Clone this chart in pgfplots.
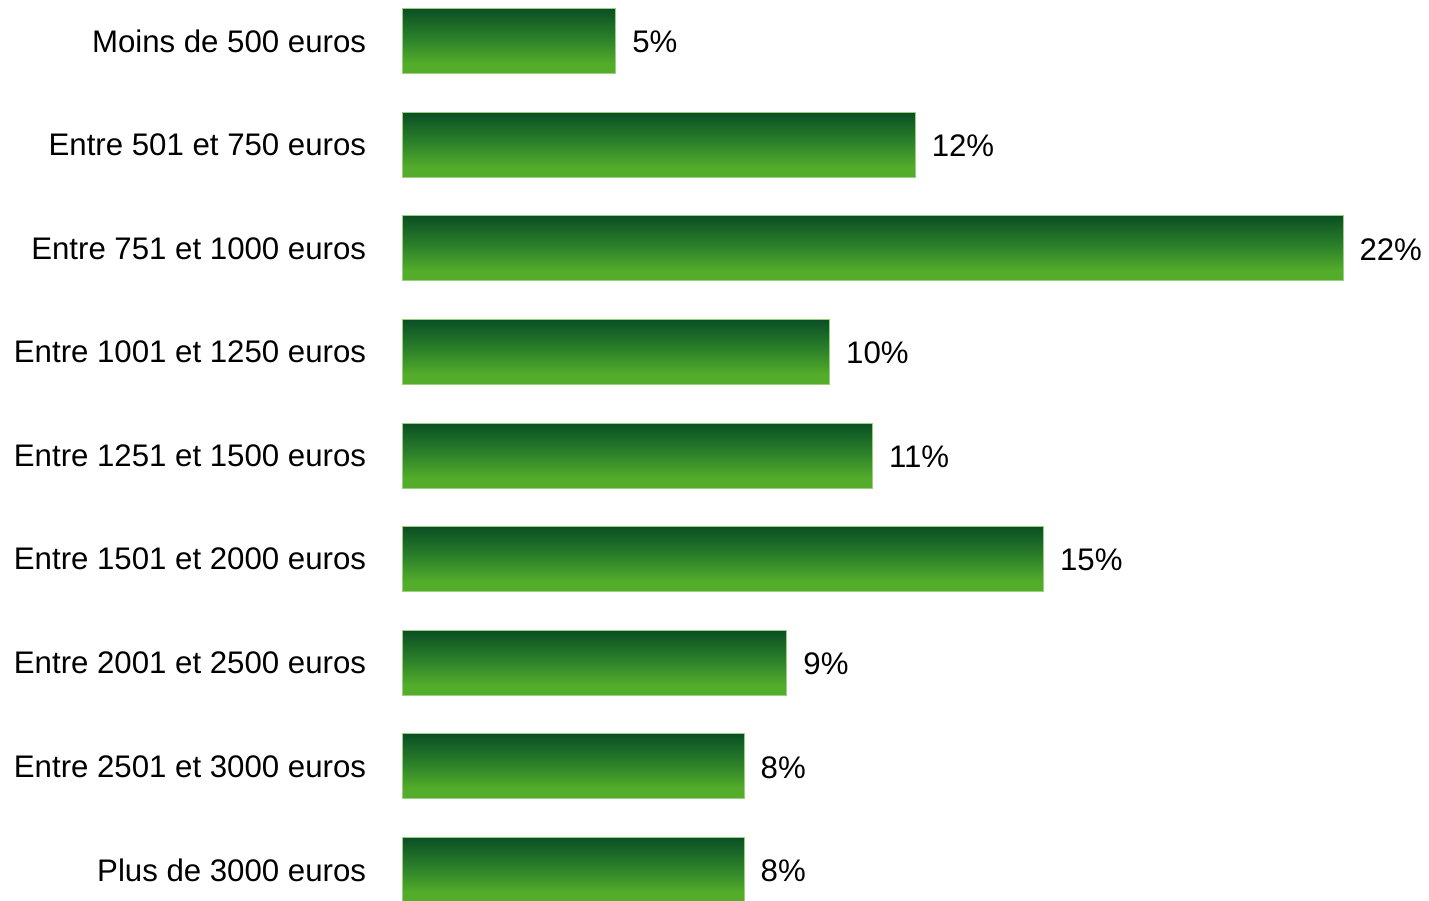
\documentclass[border=0pt]{standalone}
\usepackage{fontspec}
\setmainfont{Liberation Sans}
\usepackage{pgfplots}
\pgfplotsset{compat=1.18}
\definecolor{darkg}{HTML}{0A4F24}
\definecolor{midg}{HTML}{2C812A}
\definecolor{lightg}{HTML}{53AC2A}
\definecolor{edgeg}{HTML}{9ACF80}
\pgfdeclareverticalshading{bargreen}{100bp}{color(0bp)=(lightg); color(25bp)=(lightg); color(33bp)=(lightg); color(52bp)=(midg); color(75bp)=(darkg); color(100bp)=(darkg)}
\pgfplotsset{gbar/.style={draw=edgeg, line width=0.5pt, shading=bargreen}}
\begin{document}
\begin{tikzpicture}
\path[use as bounding box] (0pt,-450pt) rectangle (714.5pt,0pt);
\begin{axis}[
  at={(201pt,0pt)}, anchor=north west,
  scale only axis, width=513.5pt, height=450pt,
  xmin=0, xmax=24.01, ymin=-0.396, ymax=8.29, y dir=reverse,
  xtick=\empty,
  ytick={0,1,2,3,4,5,6,7,8},
  yticklabels={Moins de 500 euros, Entre 501 et 750 euros, Entre 751 et 1000 euros, Entre 1001 et 1250 euros, Entre 1251 et 1500 euros, Entre 1501 et 2000 euros, Entre 2001 et 2500 euros, Entre 2501 et 3000 euros, Plus de 3000 euros},
  yticklabel style={font=\fontsize{15.6}{18}\selectfont, anchor=east, inner sep=0pt, xshift=-13.5pt},
  axis line style={draw=none},
  tick style={draw=none},
  xbar, bar width=32.5pt, bar shift=0pt,
  point meta=explicit symbolic,
  nodes near coords,
  nodes near coords style={font=\fontsize{15.6}{18}\selectfont, anchor=west, inner sep=0pt, xshift=8pt, yshift=-0.5pt, text=black},
]
\addplot[gbar] coordinates {(5,0) [5\%]};
\addplot[gbar] coordinates {(12,1) [12\%]};
\addplot[gbar] coordinates {(22,2) [22\%]};
\addplot[gbar] coordinates {(10,3) [10\%]};
\addplot[gbar] coordinates {(11,4) [11\%]};
\addplot[gbar] coordinates {(15,5) [15\%]};
\addplot[gbar] coordinates {(9,6) [9\%]};
\addplot[gbar] coordinates {(8,7) [8\%]};
\addplot[gbar] coordinates {(8,8) [8\%]};
\end{axis}
\end{tikzpicture}
\end{document}
